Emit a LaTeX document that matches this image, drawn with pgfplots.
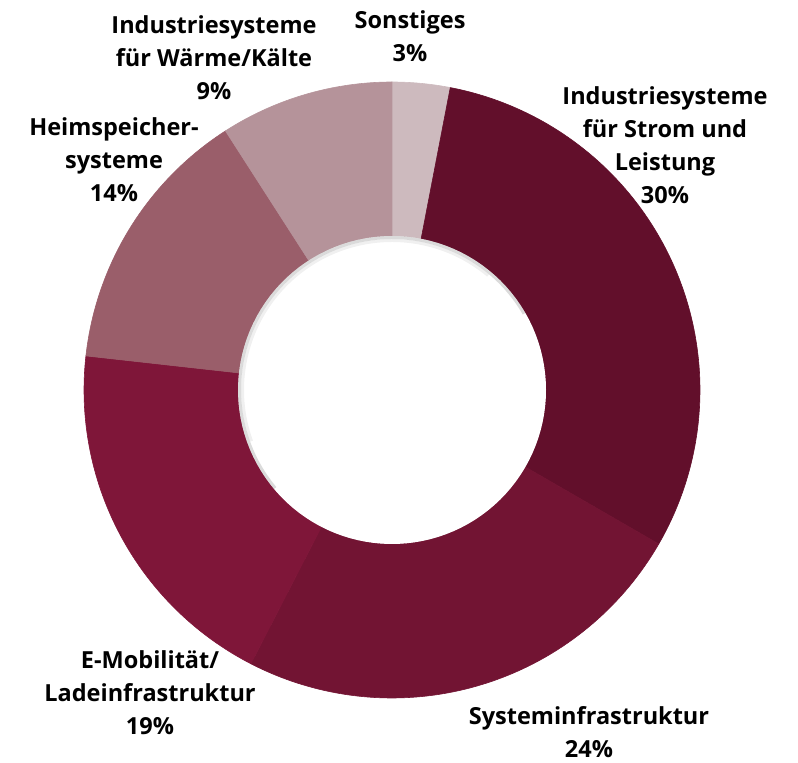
\documentclass[border=0pt]{standalone}
\usepackage{pgfplots}
\pgfplotsset{compat=1.18}
\usepackage{fontspec}
\setmainfont{Open Sans}

\definecolor{cSonst}{HTML}{CDBABE}
\definecolor{cStrom}{HTML}{620F2B}
\definecolor{cSys}{HTML}{721433}
\definecolor{cMob}{HTML}{7F1639}
\definecolor{cHeim}{HTML}{9A5E6A}
\definecolor{cWaerme}{HTML}{B5939A}

% ring geometry in pixel units
\def\cx{392}\def\cy{373}
\def\ro{308}\def\ri{154}
\def\tot{99}
\def\k{1.0084034} % 120/119, so both arcs reach the slice edge

% one ring segment: cumulative share at start, at end, colour (clockwise from top)
\newcommand\slice[3]{%
  \addplot[fill=#3, draw=#3, line width=0.6pt, line join=round, domain=0:2, samples=241]
    ({\cx + ((x<=1) ? \ro : \ri)*sin(360/\tot*(#1+(#2-#1)*((x<=1) ? min(1,x*\k) : min(1,(2-x)*\k))))},
     {\cy + ((x<=1) ? \ro : \ri)*cos(360/\tot*(#1+(#2-#1)*((x<=1) ? min(1,x*\k) : min(1,(2-x)*\k))))}) -- cycle;
}

\begin{document}
\begin{tikzpicture}
\begin{axis}[scale only axis, width=798bp, height=763bp,
  xmin=0, xmax=798, ymin=0, ymax=763, hide axis, clip=false]
\path (axis cs:0,0) rectangle (axis cs:798,763);

\slice{0}{3}{cSonst}
\slice{3}{33}{cStrom}
\slice{33}{57}{cSys}
\slice{57}{76}{cMob}
\slice{76}{90}{cHeim}
\slice{90}{99}{cWaerme}

% soft shadow inside the hole
\addplot[draw=white, line width=1.2pt, domain=0:360, samples=120]
  ({\cx+(\ri-0.6)*cos(x)},{\cy+(\ri-0.6)*sin(x)});
\addplot[draw=black, opacity=0.14, line width=3pt, domain=30:220, samples=80]
  ({\cx+(\ri-1.5)*cos(x)},{\cy+(\ri-1.5)*sin(x)});
\addplot[draw=black, opacity=0.06, line width=3pt, domain=50:200, samples=80]
  ({\cx+(\ri-4.5)*cos(x)},{\cy+(\ri-4.5)*sin(x)});

\tikzset{lab/.style={align=center, inner sep=0pt,
  font=\fontsize{23.6}{33}\selectfont\bfseries}}
\node[lab] at (axis cs:410,726.5) {Sonstiges\\3\%};
\node[lab] at (axis cs:214,705.5) {Industriesysteme\\für Wärme/Kälte\\9\%};
\node[lab] at (axis cs:114,603.5) {Heimspeicher-\\systeme\\14\%};
\node[lab] at (axis cs:665,618) {Industriesysteme\\für Strom und\\Leistung\\30\%};
\node[lab] at (axis cs:150,70.5) {E-Mobilität/\\Ladeinfrastruktur\\19\%};
\node[lab] at (axis cs:589,31) {Systeminfrastruktur\\24\%};
\end{axis}
\end{tikzpicture}
\end{document}
